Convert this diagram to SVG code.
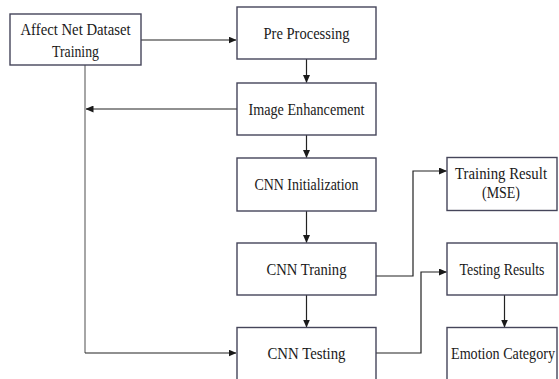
<svg xmlns="http://www.w3.org/2000/svg" width="559" height="379" viewBox="0 0 559 379">
<defs>
<marker id="ah" markerWidth="8" markerHeight="7" refX="7.5" refY="3.5" orient="auto" markerUnits="userSpaceOnUse">
<path d="M0,0 L8,3.5 L0,7 Z" fill="#1a1a1a"/>
</marker>
<style>
.box{fill:#fff;stroke:#45455a;stroke-width:1.4}
text{font-family:'Liberation Serif','DejaVu Serif',serif;font-size:16.5px;fill:#1a1a1a;text-anchor:middle}
.c{fill:none;stroke:#222;stroke-width:1.2}
.g{fill:none;stroke:#808080;stroke-width:1.4}
</style>
</defs>
<rect width="559" height="379" fill="#fff"/>
<g id="connectors">
<path class="c" d="M141,40 H236" marker-end="url(#ah)"/>
<path class="c" d="M306.5,59 V82.5" marker-end="url(#ah)"/>
<path class="c" d="M237,109 H86" marker-end="url(#ah)"/>
<path class="g" d="M85,65 V353"/>
<path class="c" d="M85,353 H236" marker-end="url(#ah)"/>
<path class="c" d="M306.5,135 V157.5" marker-end="url(#ah)"/>
<path class="c" d="M306.5,211 V242.5" marker-end="url(#ah)"/>
<path class="c" d="M306.5,295 V327" marker-end="url(#ah)"/>
<path class="c" d="M376,276 H413 V171 H446.5" marker-end="url(#ah)"/>
<path class="c" d="M376,353 H421 V272 H446.5" marker-end="url(#ah)"/>
<path class="c" d="M504.5,295 V327" marker-end="url(#ah)"/>
</g>
<g id="affect">
<rect class="box" x="10" y="14" width="131" height="51"/>
<text x="75.5" y="34.5" textLength="110" lengthAdjust="spacingAndGlyphs">Affect Net Dataset</text>
<text x="75.5" y="56.5" textLength="47" lengthAdjust="spacingAndGlyphs">Training</text>
</g>
<g id="preprocessing">
<rect class="box" x="237" y="7" width="139" height="52"/>
<text x="306.5" y="39" textLength="86" lengthAdjust="spacingAndGlyphs">Pre Processing</text>
</g>
<g id="enhancement">
<rect class="box" x="237" y="83" width="139" height="52"/>
<text x="306.5" y="114.5" textLength="116" lengthAdjust="spacingAndGlyphs">Image Enhancement</text>
</g>
<g id="init">
<rect class="box" x="237" y="158" width="139" height="53"/>
<text x="306.5" y="190" textLength="104" lengthAdjust="spacingAndGlyphs">CNN Initialization</text>
</g>
<g id="training">
<rect class="box" x="237" y="243" width="139" height="52"/>
<text x="306.5" y="274.5" textLength="80" lengthAdjust="spacingAndGlyphs">CNN Traning</text>
</g>
<g id="testing">
<rect class="box" x="237" y="327.5" width="139" height="53"/>
<text x="306.5" y="359" textLength="78" lengthAdjust="spacingAndGlyphs">CNN Testing</text>
</g>
<g id="trainresult">
<rect class="box" x="447" y="157.5" width="110" height="53"/>
<text x="501" y="178.5" textLength="92" lengthAdjust="spacingAndGlyphs">Training Result</text>
<text x="501" y="198" textLength="38" lengthAdjust="spacingAndGlyphs">(MSE)</text>
</g>
<g id="testresults">
<rect class="box" x="447" y="243" width="110" height="52"/>
<text x="502" y="274.5" textLength="85" lengthAdjust="spacingAndGlyphs">Testing Results</text>
</g>
<g id="emotion">
<rect class="box" x="447" y="327.5" width="110" height="53"/>
<text x="503" y="359" textLength="104" lengthAdjust="spacingAndGlyphs">Emotion Category</text>
</g>
</svg>
